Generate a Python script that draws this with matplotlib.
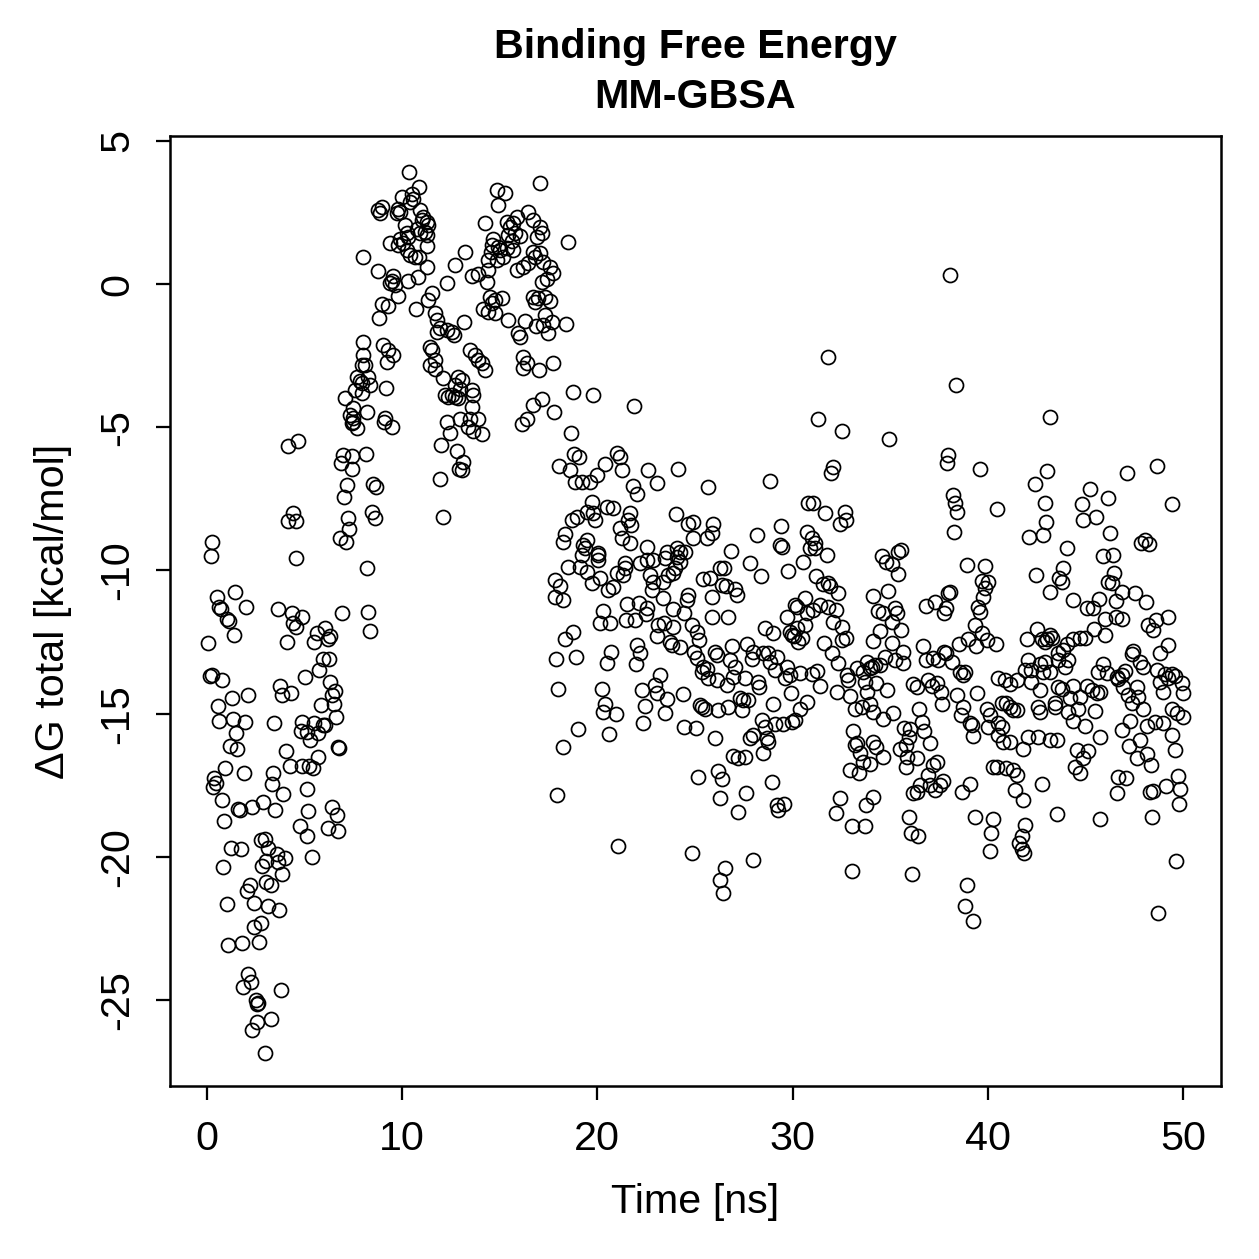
import matplotlib
matplotlib.use("Agg")
import matplotlib.pyplot as plt
import numpy as np

plt.rcParams['font.family'] = ['Liberation Sans', 'DejaVu Sans']
plt.rcParams['axes.unicode_minus'] = False

# (time [ns], dG total [kcal/mol]), by time window
seg_0_8_upper = [
    (4.16, -5.66), (4.68, -5.47), (6.98, -5.97), (7.41, -6.01), (6.85, -6.26), (7.41, -6.44), (8.13, -5.95),
    (7.67, -5.04), (7.41, -4.86), (7.16, -7.02), (7.03, -7.43), (8.5, -6.98), (4.42, -8.0), (4.13, -8.27),
    (4.54, -8.27), (7.24, -8.18), (7.29, -8.56), (6.81, -8.86), (7.1, -9.0), (0.24, -9.02), (0.19, -9.5),
    (4.56, -9.56), (8.18, -9.93), (1.43, -10.74), (0.5, -10.94), (0.61, -11.29), (0.72, -11.36), (1.98, -11.27),
    (1.01, -11.71), (1.13, -11.76), (1.4, -12.26), (0.07, -12.52), (3.65, -11.35), (4.34, -11.48), (4.88, -11.64),
    (4.42, -11.85), (4.54, -11.99), (4.08, -12.49), (6.05, -12.02), (6.3, -12.29), (5.62, -12.2), (5.5, -12.49),
    (6.18, -12.41), (6.93, -11.5), (8.26, -11.44), (8.35, -12.11), (5.96, -13.1), (6.25, -13.1), (5.74, -13.48),
    (6.3, -13.89), (6.56, -14.2), (6.42, -14.35), (6.49, -14.66), (5.84, -14.69), (6.59, -15.13), (6.05, -15.4),
    (5.02, -13.71), (0.15, -13.69), (0.27, -13.64), (0.75, -13.83), (3.74, -14.04), (3.86, -14.34), (4.3, -14.29),
    (2.12, -14.35), (1.27, -14.47), (0.55, -14.73), (0.61, -15.25), (1.35, -15.19), (1.95, -15.28), (1.49, -15.69),
    (3.43, -15.32), (4.85, -15.28), (4.82, -15.61), (5.11, -15.63), (5.5, -15.34), (5.7, -15.69), (5.96, -15.4),
    (7.67, -3.24), (7.58, -3.69), (7.07, -3.99), (7.5, -4.34), (7.33, -4.57), (7.47, -4.69), (7.5, -4.81),
    (7.84, -3.4), (7.93, -2.83),
]

seg_0_8_lower = [
    (1.18, -16.13), (1.52, -16.25), (4.03, -16.3), (0.92, -16.88), (1.91, -17.08), (0.37, -17.26), (0.45, -17.43),
    (0.32, -17.57), (3.4, -17.08), (3.35, -17.46), (4.25, -16.81), (4.88, -16.81), (5.23, -16.83), (5.45, -16.91),
    (5.7, -16.5), (6.73, -16.18), (6.76, -16.2), (5.28, -15.92), (5.11, -17.62), (3.91, -17.82), (0.78, -18.02),
    (1.6, -18.34), (1.69, -18.37), (2.29, -18.27), (2.88, -18.08), (3.48, -18.37), (0.89, -18.75), (5.19, -18.39),
    (6.42, -18.27), (6.64, -18.54), (6.18, -19.0), (6.73, -19.1), (4.76, -18.92), (5.14, -19.27), (5.36, -20.0),
    (1.23, -19.7), (1.74, -19.73), (0.84, -20.37), (2.77, -19.41), (2.97, -19.39), (3.14, -19.7), (3.57, -19.9),
    (4.0, -20.05), (3.01, -20.15), (2.83, -20.32), (3.65, -20.17), (3.83, -20.6), (3.02, -20.87), (3.28, -20.98),
    (2.2, -20.98), (2.03, -21.18), (1.04, -21.65), (2.42, -21.62), (3.14, -21.71), (3.69, -21.86), (2.77, -22.3),
    (2.39, -22.46), (1.06, -23.09), (1.78, -22.99), (2.66, -22.96), (2.08, -24.09), (2.25, -24.36), (1.86, -24.56),
    (3.79, -24.65), (2.49, -24.98), (2.6, -25.09), (2.55, -25.14), (3.28, -25.67), (2.55, -25.76), (2.32, -26.05),
    (2.97, -26.86),
]

seg_8_17 = [
    (10.37, 3.92), (10.88, 3.38), (10.49, 3.14), (9.97, 3.05), (10.57, 2.96), (10.4, 2.87), (8.78, 2.58),
    (8.86, 2.47), (8.95, 2.68), (9.8, 2.61), (9.89, 2.52), (9.75, 2.47), (10.91, 2.58), (11.08, 2.35),
    (11.26, 2.17), (11.0, 2.23), (11.34, 2.06), (11.17, 1.83), (10.74, 1.94), (10.91, 1.77), (11.26, 1.71),
    (10.14, 2.06), (10.23, 1.77), (10.31, 1.65), (9.89, 1.56), (10.06, 1.44), (9.38, 1.42), (9.8, 1.36),
    (11.26, 1.33), (10.23, 1.19), (10.4, 1.01), (10.66, 0.93), (10.88, 0.93), (7.98, 0.95), (11.26, 0.6),
    (8.78, 0.46), (9.54, 0.28), (9.46, 0.12), (9.63, -0.03), (9.38, 0.02), (9.8, -0.42), (10.31, 0.12),
    (10.82, 0.25), (8.95, -0.7), (9.29, -0.77), (8.83, -1.2), (10.71, -0.88), (11.51, -0.32), (11.34, -0.56),
    (11.68, -1.02), (11.77, -1.26), (11.94, -1.55), (11.8, -1.67), (12.28, -1.61), (12.54, -1.67), (12.65, -1.78),
    (12.31, 0.02), (12.7, 0.66), (13.22, 1.13), (13.17, -1.32), (7.98, -2.01), (8.01, -2.48), (8.09, -2.83),
    (8.26, -3.24), (7.93, -3.47), (8.35, -3.53), (7.93, -3.82), (9.03, -2.13), (9.29, -2.3), (9.54, -2.48),
    (9.21, -2.71), (9.17, -3.64), (8.18, -4.46), (9.12, -4.69), (9.46, -4.98), (9.07, -4.81), (8.66, -7.1),
    (8.44, -7.95), (8.61, -8.18), (11.42, -2.19), (11.51, -2.3), (11.42, -2.83), (11.68, -2.65), (11.68, -2.98),
    (12.11, -3.29), (12.87, -3.24), (13.05, -3.35), (12.7, -3.53), (12.96, -3.68), (12.19, -3.88), (12.36, -3.94),
    (12.54, -3.88), (12.7, -3.94), (12.87, -3.99), (13.47, -2.3), (13.73, -2.48), (13.9, -2.65), (14.07, -2.77),
    (14.24, -3.0), (13.56, -3.7), (13.64, -3.88), (13.56, -4.28), (12.31, -4.81), (12.45, -5.21), (12.96, -4.72),
    (13.47, -4.72), (13.9, -4.72), (14.07, -5.24), (13.39, -4.98), (13.64, -5.12), (11.97, -5.62), (12.79, -5.82),
    (13.13, -6.2), (12.93, -6.44), (13.05, -6.49), (11.94, -6.79), (12.07, -8.12), (14.24, 2.14), (14.64, 1.56),
    (14.53, 1.13), (14.92, 1.28), (14.84, 3.28), (15.27, 3.19), (14.92, 2.76), (15.35, 2.18), (15.52, 2.0),
    (15.69, 2.12), (15.78, 1.79), (15.44, 1.71), (15.87, 2.35), (16.03, 1.68), (15.61, 1.51), (16.46, 2.52),
    (16.72, 2.23), (17.06, 2.0), (16.89, 1.65), (17.15, 1.77), (17.06, 3.52), (14.58, 1.36), (15.01, 1.19),
    (15.35, 1.25), (15.69, 1.19), (15.18, 0.93), (14.84, 0.84), (14.41, 0.84), (14.41, 0.49), (14.33, 0.08),
    (13.56, 0.28), (13.9, 0.35), (14.5, -0.44), (14.75, -0.56), (15.1, -0.5), (14.58, -0.67), (14.12, -0.88),
    (14.41, -0.97), (14.75, -1.02), (15.44, -1.26), (15.89, 0.49), (16.2, 0.58), (16.46, 0.72), (16.72, 1.13),
    (16.8, 0.93), (16.72, -0.44), (16.97, -0.5), (16.8, -0.62), (16.29, -1.28), (16.85, -1.47), (17.2, -1.43),
    (17.15, 0.08), (15.95, -1.7), (16.03, -1.84), (16.2, -2.54), (16.38, -2.75), (16.2, -2.94), (17.02, -3.0),
    (16.72, -4.22), (17.15, -4.03), (16.15, -4.89), (16.38, -4.72),
]

seg_17_26_upper = [
    (18.51, 1.48), (17.06, 1.07), (17.23, 0.78), (17.57, 0.6), (17.71, 0.39), (17.4, 0.16), (17.32, -0.44),
    (17.57, -0.58), (17.32, -1.08), (17.66, -1.32), (17.49, -1.72), (18.39, -1.41), (17.71, -2.75), (18.73, -3.76),
    (19.76, -3.88), (21.87, -4.26), (17.78, -4.46), (18.63, -5.19), (18.8, -5.94), (19.07, -6.05), (20.99, -5.89),
    (21.16, -6.03), (18.05, -6.35), (18.6, -6.49), (20.39, -6.29), (21.24, -6.49), (22.61, -6.49), (23.04, -6.94),
    (24.15, -6.47), (25.68, -7.1), (18.85, -6.9), (19.2, -6.9), (19.62, -6.9), (20.0, -6.67), (21.84, -7.05),
    (22.04, -7.33), (19.71, -7.6), (20.48, -7.78), (20.82, -7.83), (19.79, -8.0), (19.88, -8.24), (19.45, -7.95),
    (18.68, -8.24), (18.97, -8.12), (21.67, -8.0), (21.58, -8.24), (21.7, -8.41), (21.16, -8.53), (21.24, -8.88),
    (21.67, -9.05), (18.34, -8.73), (18.22, -9.0), (19.45, -8.94), (19.28, -9.11), (19.37, -9.23), (20.05, -9.4),
    (24.03, -8.03), (24.66, -8.36), (24.88, -8.3), (24.91, -8.88), (25.6, -8.88), (25.91, -8.38), (25.86, -8.7),
    (22.53, -9.17), (23.55, -9.35), (24.06, -9.23), (24.23, -9.35), (24.49, -9.35),
]

seg_17_26_lower = [
    (19.2, -9.46), (20.05, -9.46), (20.05, -9.64), (21.41, -9.75), (21.41, -9.93), (22.18, -9.75), (22.53, -9.64),
    (22.86, -9.64), (23.46, -9.58), (24.06, -9.52), (24.23, -9.7), (18.51, -9.87), (19.11, -9.87), (19.45, -10.05),
    (19.71, -10.45), (17.83, -10.34), (18.08, -10.55), (17.83, -10.92), (18.22, -11.03), (20.13, -10.28),
    (20.56, -10.68), (20.82, -10.57), (21.02, -10.1), (21.33, -10.16), (22.69, -10.16), (22.86, -10.39),
    (22.78, -10.68), (23.38, -10.39), (23.63, -10.16), (23.98, -9.93), (23.89, -10.1), (23.38, -10.97),
    (24.66, -10.86), (24.58, -11.03), (25.43, -10.31), (26.28, -9.93), (26.37, -10.51), (20.3, -11.41),
    (20.13, -11.83), (20.65, -11.83), (21.53, -11.17), (22.15, -11.15), (22.56, -11.32), (22.49, -11.52),
    (21.47, -11.73), (21.93, -11.73), (23.89, -11.36), (24.44, -11.48), (18.77, -12.14), (18.34, -12.41),
    (17.88, -13.1), (18.9, -13.03), (20.68, -12.84), (20.51, -13.22), (22.01, -12.6), (22.18, -12.87),
    (21.98, -13.27), (23.12, -11.91), (23.41, -11.83), (23.86, -11.97), (23.07, -12.29), (23.72, -12.49),
    (23.81, -12.6), (24.23, -12.66), (24.83, -11.91), (25.12, -12.14), (25.22, -12.43), (24.95, -12.84),
    (25.09, -13.07), (25.43, -13.36), (25.34, -13.54), (25.6, -13.45), (25.68, -13.77), (18.0, -14.15),
    (20.22, -14.15), (20.39, -14.66), (20.3, -14.93), (20.95, -15.01), (19.02, -15.53), (20.61, -15.72),
    (18.25, -16.18), (22.27, -14.18), (22.95, -14.0), (23.07, -14.27), (23.21, -13.65), (23.58, -14.5),
    (22.44, -14.73), (23.46, -14.99), (22.32, -15.32), (24.37, -14.32), (24.44, -15.46), (25.05, -15.51),
    (25.26, -14.7), (25.34, -14.76), (25.51, -14.85), (25.17, -17.2), (17.95, -17.84), (21.07, -19.62),
    (24.86, -19.88),
]

seg_26_34_upper = [
    (31.83, -2.54), (31.32, -4.72), (32.52, -5.12), (32.08, -6.4), (31.95, -6.61), (28.84, -6.87), (30.8, -7.66),
    (31.06, -7.64), (31.66, -7.98), (32.68, -7.95), (32.73, -8.24), (32.43, -8.36), (28.16, -8.76), (29.39, -8.45),
    (29.35, -9.11), (29.44, -9.19), (30.75, -8.65), (30.98, -8.88), (31.15, -9.05), (30.89, -9.23), (31.15, -9.23),
    (31.75, -9.46), (30.55, -9.7), (26.83, -9.31), (26.49, -9.93), (26.59, -10.54), (27.05, -10.66), (27.14, -10.86),
    (27.82, -9.75), (28.37, -10.2), (29.78, -10.01), (31.2, -10.2), (31.57, -10.47), (31.83, -10.43), (31.92, -10.54),
    (32.34, -10.78), (30.64, -10.97), (30.12, -11.21), (30.21, -11.29), (31.06, -11.38), (31.4, -11.21),
    (31.83, -11.27), (32.22, -11.38), (25.86, -10.92), (25.77, -10.28), (25.86, -11.62), (26.71, -11.62),
    (29.7, -11.62),
]

seg_26_34_lower = [
    (28.59, -12.02), (28.98, -12.18), (30.72, -11.48), (29.87, -12.14), (30.07, -12.29), (30.3, -12.49),
    (30.47, -12.37), (30.64, -11.91), (30.21, -12.02), (29.95, -12.26), (32.08, -11.79), (32.52, -11.99),
    (32.73, -12.37), (32.52, -12.43), (32.0, -12.89), (32.34, -13.22), (31.61, -12.52), (26.02, -12.84),
    (26.11, -12.95), (26.88, -12.64), (26.8, -13.13), (27.05, -13.36), (27.65, -12.56), (27.99, -12.84),
    (27.9, -13.1), (28.5, -12.89), (28.76, -12.89), (28.84, -13.19), (29.18, -13.01), (29.1, -13.48), (29.7, -13.36),
    (29.61, -13.77), (29.87, -13.65), (30.38, -13.57), (30.98, -13.62), (31.27, -13.5), (31.4, -14.04),
    (32.26, -14.24), (32.77, -13.65), (32.86, -13.83), (33.28, -13.42), (33.62, -13.54), (33.8, -13.19),
    (33.97, -13.42), (34.22, -13.3), (33.71, -13.89), (33.8, -14.24), (32.94, -14.39), (33.2, -14.82),
    (33.54, -14.76), (33.97, -14.66), (26.11, -13.83), (26.63, -14.0), (26.71, -14.76), (26.2, -14.87),
    (26.97, -13.71), (27.56, -13.77), (28.25, -13.89), (28.3, -14.06), (27.31, -14.47), (27.48, -14.52),
    (27.74, -14.52), (27.39, -14.87), (29.0, -14.66), (29.94, -14.27), (30.72, -14.58), (30.38, -14.82),
    (28.42, -15.22), (28.59, -15.48), (27.99, -15.75), (27.82, -15.86), (28.7, -15.86), (28.76, -15.98),
    (29.1, -15.36), (29.52, -15.36), (29.95, -15.28), (30.12, -15.22), (26.02, -15.86), (28.5, -16.36),
    (26.97, -16.48), (27.22, -16.56), (27.56, -16.5), (33.11, -15.6), (33.28, -16.02), (33.2, -16.1),
    (33.45, -16.39), (33.62, -16.68), (33.97, -16.74), (32.94, -16.97), (33.42, -17.06), (34.13, -15.98),
    (34.27, -16.16), (26.2, -16.99), (26.37, -17.29), (28.93, -17.38), (26.28, -17.96), (27.61, -17.78),
    (27.22, -18.42), (29.18, -18.19), (29.56, -18.16), (29.27, -18.37), (32.43, -17.96), (32.22, -18.46),
    (33.76, -18.19), (34.13, -17.92), (33.03, -18.92), (33.71, -18.92), (27.99, -20.11), (26.54, -20.4),
    (26.28, -20.79), (26.45, -21.27), (33.03, -20.48),
]

seg_34_43_upper = [
    (38.06, 0.31), (38.37, -3.53), (34.95, -5.42), (43.19, -4.63), (37.98, -5.97), (37.89, -6.24), (39.6, -6.47),
    (42.42, -6.98), (43.02, -6.52), (42.93, -7.66), (42.98, -8.3), (42.13, -8.82), (42.85, -8.76), (38.2, -7.37),
    (38.32, -7.64), (38.44, -7.95), (38.27, -8.65), (40.49, -7.87), (34.56, -9.5), (34.78, -9.7), (35.08, -9.78),
    (35.41, -9.35), (35.54, -9.29), (35.41, -10.13), (34.9, -10.71), (34.13, -10.89), (34.39, -11.41),
    (34.65, -11.48), (35.25, -11.32), (35.33, -11.48), (38.95, -9.81), (39.86, -9.85), (39.69, -10.36),
    (40.03, -10.39), (39.86, -10.62), (39.77, -10.94), (39.51, -11.27), (39.6, -11.44), (42.47, -10.16),
    (43.19, -10.74), (38.06, -10.74), (37.98, -10.8), (36.83, -11.24), (37.3, -11.09), (37.86, -11.32),
    (37.76, -11.48),
]

seg_34_43_lower = [
    (35.08, -11.79), (35.54, -12.08), (34.13, -12.45), (35.08, -12.52), (39.34, -11.91), (39.69, -12.2),
    (39.94, -12.43), (40.42, -12.55), (38.54, -12.57), (39.0, -12.41), (39.39, -12.64), (34.48, -12.11),
    (35.67, -12.84), (35.64, -13.24), (35.25, -13.13), (34.73, -13.01), (34.48, -13.3), (34.05, -13.36),
    (36.68, -12.64), (36.83, -13.13), (37.18, -13.07), (37.46, -13.13), (37.76, -12.84), (37.86, -12.87),
    (38.15, -13.19), (38.58, -13.54), (38.83, -13.54), (38.75, -13.65), (34.27, -13.92), (34.82, -14.18),
    (36.18, -13.97), (36.36, -14.06), (36.95, -13.83), (37.13, -14.04), (37.38, -13.92), (37.59, -14.24),
    (37.64, -14.66), (36.49, -14.85), (38.44, -14.35), (38.75, -14.76), (38.61, -15.05), (39.09, -15.32),
    (39.17, -15.4), (39.46, -14.27), (39.22, -15.78), (34.13, -14.93), (34.65, -15.17), (35.16, -14.99),
    (34.65, -16.5), (35.72, -15.51), (36.03, -15.55), (36.62, -15.28), (36.71, -15.6), (35.94, -15.81),
    (35.82, -16.1), (35.5, -16.25), (35.85, -16.5), (36.36, -16.56), (35.82, -16.85), (37.02, -16.02),
    (37.21, -16.79), (37.38, -16.68), (36.95, -17.15), (36.52, -17.49), (36.18, -17.78), (36.36, -17.73),
    (37.04, -17.49), (37.3, -17.66), (37.55, -17.49), (37.69, -17.34), (38.66, -17.73), (39.09, -17.46),
    (40.27, -16.85), (40.45, -16.85), (40.96, -16.91), (41.31, -16.97), (41.48, -17.15), (41.39, -17.66),
    (41.82, -18.02), (42.76, -17.46), (39.94, -14.82), (40.11, -15.05), (40.03, -15.46), (40.54, -15.34),
    (40.71, -15.46), (40.54, -15.75), (40.8, -15.98), (41.14, -15.98), (40.71, -14.64), (40.96, -14.64),
    (41.14, -14.76), (41.31, -14.87), (41.48, -14.87), (41.79, -16.25), (42.07, -15.83), (42.58, -15.81),
    (40.54, -13.77), (40.88, -13.83), (41.14, -13.95), (41.48, -13.83), (41.99, -12.38), (42.5, -12.03),
    (42.76, -12.38), (42.93, -12.5), (42.07, -13.13), (41.9, -13.48), (42.24, -13.48), (42.66, -13.25),
    (42.83, -13.54), (42.24, -13.89), (42.66, -14.18), (42.58, -14.76), (42.66, -14.93), (43.19, -15.92),
    (35.98, -18.61), (36.05, -19.18), (36.44, -19.27), (39.34, -18.61), (40.28, -18.68), (40.15, -19.16),
    (40.11, -19.79), (41.9, -18.89), (41.74, -19.27), (41.61, -19.53), (41.74, -19.74), (41.86, -19.88),
    (36.1, -20.61), (38.92, -20.98), (38.83, -21.72), (39.26, -22.23),
]

seg_43_50_upper = [
    (47.15, -6.59), (48.65, -6.35), (45.24, -7.15), (46.17, -7.48), (44.81, -7.68), (44.86, -8.24), (45.54, -8.15),
    (46.26, -8.68), (49.42, -7.68), (44.04, -9.23), (45.88, -9.5), (46.4, -9.46), (47.85, -9.03), (48.05, -8.94),
    (48.27, -9.08), (43.87, -9.93), (43.66, -10.28), (43.78, -10.39), (44.35, -11.03), (45.06, -11.32),
    (45.4, -11.32), (45.71, -11.01), (46.46, -10.08), (46.17, -10.39), (46.35, -10.45), (46.86, -10.74),
    (46.57, -11.06), (47.54, -10.78), (48.1, -11.09), (46.0, -11.71), (46.57, -11.64), (46.86, -11.71),
    (46.0, -12.26), (45.44, -12.06), (44.98, -12.37), (44.72, -12.37), (44.38, -12.41), (44.04, -12.57),
    (43.87, -12.78), (43.61, -12.89), (43.19, -12.26), (43.02, -12.41), (43.27, -12.37), (48.22, -11.91),
    (48.62, -11.73), (48.48, -12.08), (49.25, -11.62), (49.25, -12.61), (48.83, -12.89), (47.46, -12.8),
    (47.38, -12.92),
]

seg_43_50_lower = [
    (42.93, -13.19), (43.61, -13.13), (43.96, -13.36), (44.13, -13.13), (43.19, -13.54), (45.92, -13.27),
    (45.66, -13.54), (46.09, -13.57), (46.6, -13.73), (46.86, -13.65), (47.03, -13.5), (46.69, -13.8),
    (47.8, -13.19), (47.97, -13.38), (48.65, -13.48), (49.08, -13.6), (49.42, -13.6), (49.59, -13.69),
    (49.25, -13.77), (48.83, -13.89), (49.94, -13.94), (49.99, -14.27), (49.0, -14.24), (43.61, -14.08),
    (43.78, -14.15), (44.38, -14.04), (45.06, -14.04), (45.32, -14.18), (45.58, -14.29), (45.75, -14.24),
    (44.22, -14.47), (44.72, -14.41), (44.64, -14.82), (45.49, -14.9), (43.44, -14.62), (43.44, -14.78),
    (44.13, -14.93), (44.38, -15.25), (44.98, -15.43), (46.94, -14.06), (47.2, -14.35), (47.63, -14.06),
    (47.71, -14.41), (47.37, -14.64), (47.97, -14.82), (47.28, -15.25), (46.86, -15.57), (47.8, -15.92),
    (47.25, -16.13), (48.14, -15.43), (48.57, -15.28), (49.0, -15.31), (49.42, -14.82), (49.68, -14.97),
    (50.02, -15.13), (49.42, -15.75), (49.59, -16.27), (49.76, -17.18), (49.85, -17.64), (49.81, -18.16),
    (49.13, -17.53), (48.48, -17.7), (48.31, -17.73), (47.63, -16.56), (48.14, -16.41), (48.34, -16.79),
    (44.56, -16.27), (45.15, -16.3), (44.9, -16.56), (44.47, -16.85), (44.72, -17.06), (43.53, -15.92),
    (45.75, -15.83), (46.69, -17.22), (47.08, -17.25), (46.64, -17.76), (43.56, -18.5), (45.75, -18.68),
    (48.39, -18.6), (49.64, -20.14), (48.73, -21.97),
]

x_ticks = [0, 10, 20, 30, 40, 50]
y_ticks = [-25, -20, -15, -10, -5, 0, 5]
title_lines = ["Binding Free Energy", "MM-GBSA"]
x_label = "Time [ns]"
y_label = "ΔG total [kcal/mol]"

segments = [seg_0_8_upper, seg_0_8_lower, seg_8_17, seg_17_26_upper, seg_17_26_lower,
            seg_26_34_upper, seg_26_34_lower, seg_34_43_upper, seg_34_43_lower,
            seg_43_50_upper, seg_43_50_lower]
pts = np.array([p for s in segments for p in s])
time_ns = pts[:, 0]
dg_total = pts[:, 1]

W = H = 1259
dpi = 180
fig = plt.figure(figsize=(W / dpi, H / dpi), dpi=dpi)
ax = fig.add_axes([170 / W, 1 - 1086 / H, (1221 - 170) / W, (1086 - 136) / H])

ax.plot(time_ns, dg_total, ls='none', marker='o', mfc='none', mec='black', ms=5.6, mew=0.7)

ax.set_xlim(-1.895, 51.95)
ax.set_ylim(-28.0, 5.17)
ax.set_xticks(x_ticks)
ax.set_xticklabels([str(v) for v in x_ticks])
ax.set_yticks(y_ticks)
ax.set_yticklabels([str(v) for v in y_ticks], rotation=90, va='center', ha='right')

fs = 16.5
ax.tick_params(axis='both', direction='out', length=5.6, width=0.9, labelsize=fs, color='black')
ax.tick_params(axis='x', pad=8)
ax.tick_params(axis='y', pad=8)
for sp in ax.spines.values():
    sp.set_linewidth(1.0)
    sp.set_color('black')

fig.text(695.5 / W, 1 - 58 / H, title_lines[0], ha='center', va='baseline', fontsize=fs, fontweight='bold')
fig.text(695.5 / W, 1 - 108 / H, title_lines[1], ha='center', va='baseline', fontsize=fs, fontweight='bold')
fig.text(695.5 / W, 1 - 1213 / H, x_label, ha='center', va='baseline', fontsize=fs)
fig.text(64 / W, 1 - 611 / H, y_label, ha='center', va='baseline', rotation=90, fontsize=fs,
         rotation_mode='anchor')

fig.savefig("out.png", dpi=dpi)
